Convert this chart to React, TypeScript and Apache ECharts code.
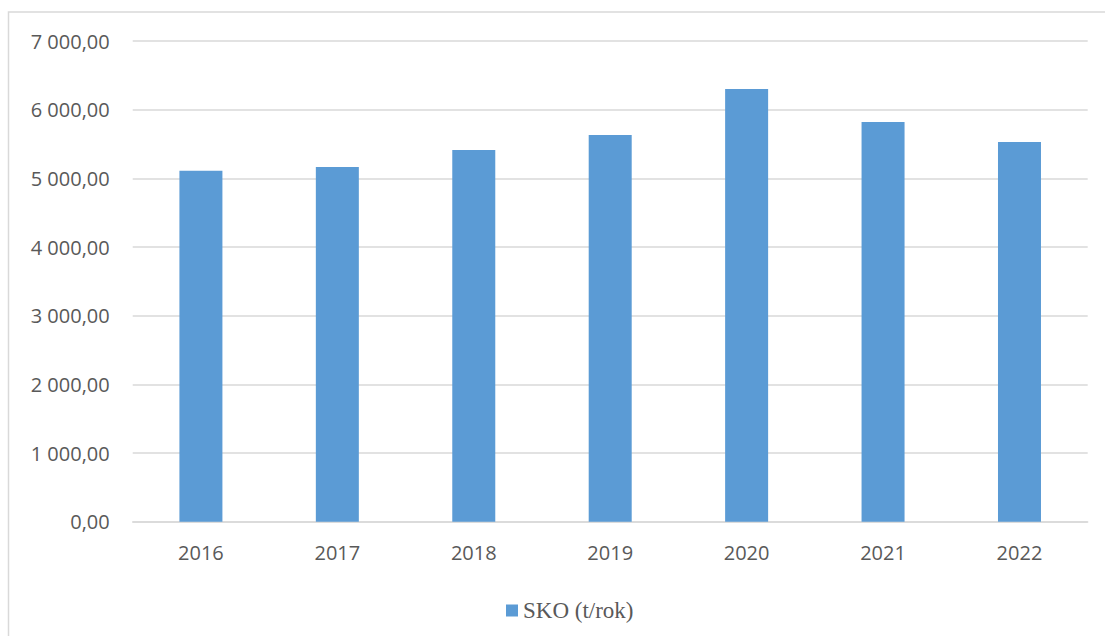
import React, { useEffect, useRef } from "react";
import * as echarts from "echarts";

const categories = ["2016", "2017", "2018", "2019", "2020", "2021", "2022"];
const skoValues = [5111, 5165, 5413, 5631, 6301, 5820, 5530];
const seriesName = "SKO (t/rok)";

function fmt(v: number): string {
  const fixed = v.toFixed(2);
  const [intPart, dec] = fixed.split(".");
  const withSep = intPart.replace(/\B(?=(\d{3})+(?!\d))/g, " ");
  return withSep + "," + dec;
}

export default function App() {
  const ref = useRef<HTMLDivElement>(null);
  useEffect(() => {
    if (!ref.current) return;
    const chart = echarts.init(ref.current, undefined, { renderer: "svg" });
    chart.setOption({
      animation: false,
      backgroundColor: "#ffffff",
      graphic: [
        {
          type: "rect",
          shape: { x: 8.5, y: 12, width: 1200, height: 700 },
          style: { fill: "none", stroke: "#d9d9d9", lineWidth: 1.5 },
          silent: true,
        },
      ],
      grid: { left: 132.7, right: 17.3, top: 41, bottom: 114.3, containLabel: false },
      legend: {
        left: 501,
        top: 594,
        icon: "rect",
        itemWidth: 12,
        itemHeight: 12,
        textStyle: {
          fontFamily: "Liberation Serif",
          fontSize: 23,
          color: "#595959",
          lineHeight: 22,
        },
        data: [seriesName],
      },
      xAxis: {
        type: "category",
        data: categories,
        axisLine: { show: true, lineStyle: { color: "#d9d9d9", width: 1.5 } },
        axisTick: { show: false },
        axisLabel: {
          color: "#595959",
          fontFamily: "Open Sans",
          fontSize: 20,
          margin: 21,
        },
      },
      yAxis: {
        type: "value",
        min: 0,
        max: 7000,
        interval: 1000,
        axisLine: { show: false },
        axisTick: { show: false },
        splitLine: { lineStyle: { color: "#d9d9d9", width: 1.5 } },
        axisLabel: {
          color: "#595959",
          fontFamily: "Open Sans",
          fontSize: 20,
          margin: 23,
          formatter: (v: number) => fmt(v),
        },
      },
      series: [
        {
          name: seriesName,
          type: "bar",
          data: skoValues,
          barWidth: 43,
          itemStyle: { color: "#5b9bd5" },
        },
      ],
    });
    return () => chart.dispose();
  }, []);
  return (
    <div
      ref={ref}
      style={{ position: "absolute", left: 0, top: 0, width: 1105, height: 636 }}
    />
  );
}
